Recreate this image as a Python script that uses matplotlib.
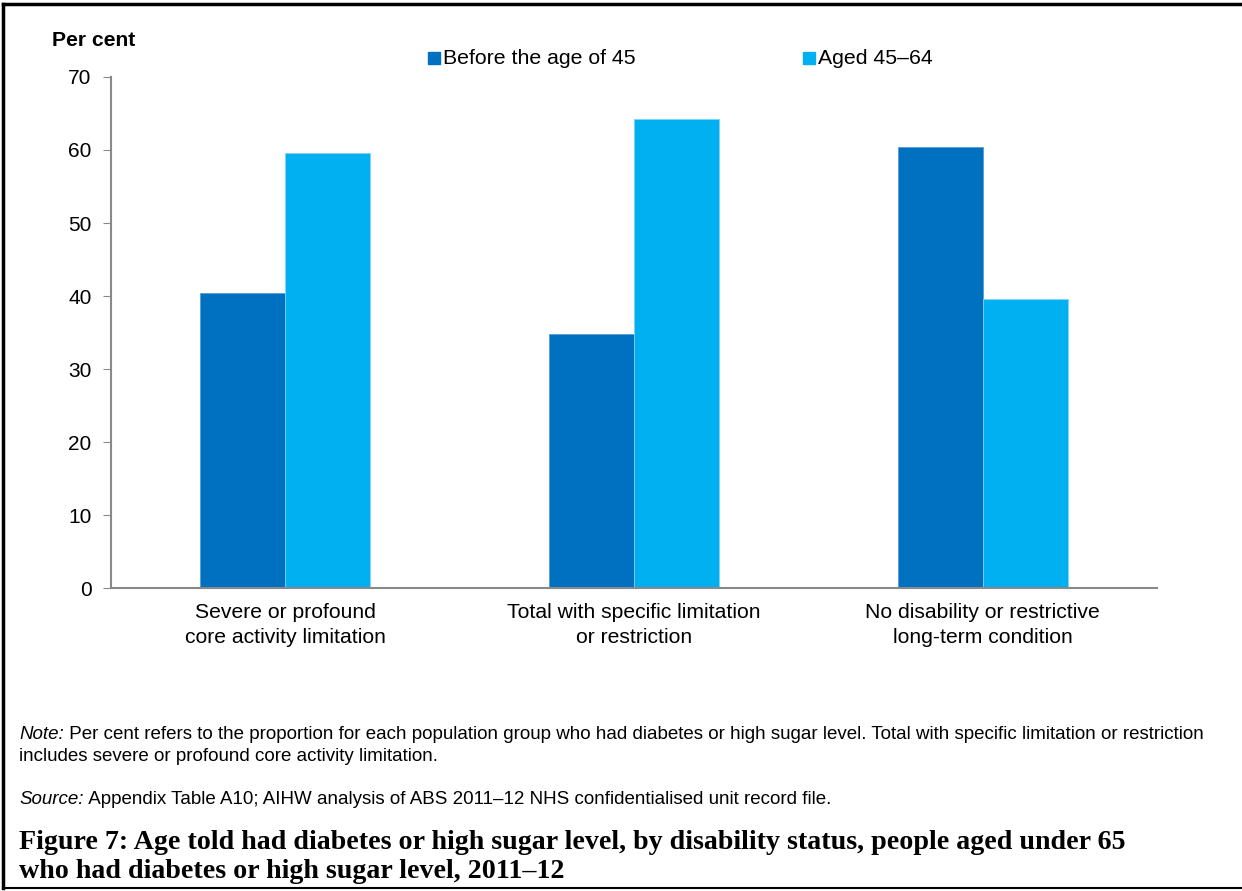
import matplotlib.pyplot as plt
import numpy as np
from matplotlib.lines import Line2D

plt.rcParams["font.family"] = ["Liberation Sans", "DejaVu Sans"]

categories = [
    "Severe or profound\ncore activity limitation",
    "Total with specific limitation\nor restriction",
    "No disability or restrictive\nlong-term condition",
]
series_names = ["Before the age of 45", "Aged 45\u201364"]
before_45 = [40.4, 34.8, 60.4]
aged_45_64 = [59.6, 64.2, 39.6]
y_ticks = [0, 10, 20, 30, 40, 50, 60, 70]

note_lead = "Note:"
note_text = (" Per cent refers to the proportion for each population group who had diabetes or high sugar level. "
             "Total with specific limitation or restriction")
note_text2 = "includes severe or profound core activity limitation."
source_lead = "Source:"
source_text = " Appendix Table A10; AIHW analysis of ABS 2011\u201312 NHS confidentialised unit record file."
title_text = ("Figure 7: Age told had diabetes or high sugar level, by disability status, people aged under 65\n"
              "who had diabetes or high sugar level, 2011\u201312")

dark = "#0070C0"
light = "#00B0F0"
spine_col = "#898989"

fig = plt.figure(figsize=(12.42, 8.91), dpi=100)
ax = fig.add_axes([0.0894, 0.340, 0.8422, 0.5736])

x = np.arange(len(categories))
w = 0.244
ax.bar(x - w / 2, before_45, w, color=dark, edgecolor="#5b9bd5", linewidth=0.6)
ax.bar(x + w / 2, aged_45_64, w, color=light, edgecolor="#7fd3f5", linewidth=0.6)

ax.set_xlim(-0.5, 2.5)
ax.set_ylim(0, 70)
ax.set_yticks(y_ticks)
ax.set_xticks(x)
ax.set_xticklabels(categories, fontsize=15.2, linespacing=1.4)
ax.tick_params(axis="y", labelsize=15, length=6, color=spine_col, pad=8)
ax.tick_params(axis="x", length=0, pad=11)
for s in ["top", "right"]:
    ax.spines[s].set_visible(False)
for s in ["left", "bottom"]:
    ax.spines[s].set_color(spine_col)
    ax.spines[s].set_linewidth(1.5)

fig.text(52 / 1242, 1 - 41 / 891, "Per cent", fontsize=15.2, fontweight="bold", va="center", ha="left")

# legend
for sx, col, name in [(428, dark, series_names[0]), (803, light, series_names[1])]:
    fig.patches.append(plt.Rectangle((sx / 1242, 1 - 64 / 891), 12 / 1242, 12 / 891,
                                     transform=fig.transFigure, color=col))
    fig.text((sx + 15) / 1242, 1 - 58 / 891, name, fontsize=15.3, va="center", ha="left")

# notes
def mixed(y, lead, rest):
    t = fig.text(19 / 1242, 1 - y / 891, lead, fontsize=13.5, style="italic", va="baseline")
    a = plt.annotate(rest, xy=(1, 0), xycoords=t, fontsize=13.5, va="bottom", ha="left",
                     annotation_clip=False)
    return a

mixed(739, note_lead, note_text)
fig.text(19 / 1242, 1 - 761 / 891, note_text2, fontsize=13.5, va="baseline")
mixed(804, source_lead, source_text)

fig.text(19 / 1242, 1 - 878 / 891, title_text, fontsize=20.2, fontweight="bold",
         family=["Liberation Serif", "DejaVu Serif"], va="baseline", linespacing=1.2)

# page border
fig.add_artist(Line2D([3 / 1242, 3 / 1242], [0.003, 0.996], transform=fig.transFigure, color="black", lw=2.5))
fig.add_artist(Line2D([3 / 1242, 1], [0.996, 0.996], transform=fig.transFigure, color="black", lw=2.5))
fig.add_artist(Line2D([3 / 1242, 1], [0.003, 0.003], transform=fig.transFigure, color="black", lw=1.5))

fig.savefig("out.png", dpi=100)
